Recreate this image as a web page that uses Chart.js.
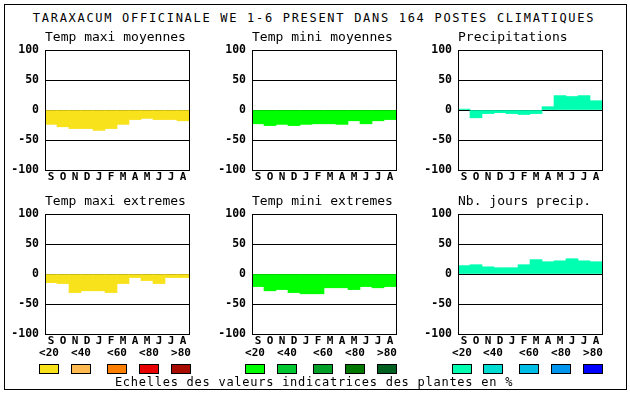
<!DOCTYPE html>
<html>
<head>
<meta charset="utf-8">
<script src="https://cdn.jsdelivr.net/npm/chart.js@4/dist/chart.umd.min.js"></script>
<style>
body { margin: 0; background: #fff; width: 630px; height: 394px; position: relative; overflow: hidden; font-family: "DejaVu Sans Mono", monospace; }
#frame { position: absolute; left: 4px; top: 4px; width: 621px; height: 384px; border: 1px solid #000; }
#title { position: absolute; left: 0; width: 628px; top: 9px; text-align: center; font-size: 12px; letter-spacing: 1.7px; line-height: 18px; }
#footer { position: absolute; left: 0; width: 628px; top: 374px; text-align: center; font-size: 12px; letter-spacing: 0.74px; line-height: 16px; }
canvas { position: absolute; }
.lab { position: absolute; width: 30px; text-align: center; font-size: 11px; font-weight: bold; line-height: 12px; top: 347px; }
.box { position: absolute; width: 18px; height: 8px; border: 1px solid #000; top: 364px; }
</style>
</head>
<body>
<div id="frame"></div>
<div id="title">TARAXACUM OFFICINALE WE 1-6 PRESENT DANS 164 POSTES CLIMATIQUES</div>
<canvas id="c1" width="192" height="164" style="left:0px;top:26px"></canvas>
<canvas id="c2" width="192" height="164" style="left:207px;top:26px"></canvas>
<canvas id="c3" width="192" height="164" style="left:413px;top:26px"></canvas>
<canvas id="c4" width="192" height="164" style="left:0px;top:190px"></canvas>
<canvas id="c5" width="192" height="164" style="left:207px;top:190px"></canvas>
<canvas id="c6" width="192" height="164" style="left:413px;top:190px"></canvas>
<div id="legend"></div>
<div id="footer">Echelles des valeurs indicatrices des plantes en %</div>
<script>
// months, september to august
const months = ["S", "O", "N", "D", "J", "F", "M", "A", "M", "J", "J", "A"];
const yTicks = [-100, -50, 0, 50, 100];

const tmaxMoyennes = [-24, -28, -31, -31, -34, -31, -24, -16, -14, -16, -16, -18];
const tminMoyennes = [-23, -26, -24, -26, -24, -23, -23, -24, -18, -23, -18, -16];
const precipitations = [1.5, -13, -6, -4.5, -6, -7.5, -6, 5.5, 24, 22.5, 24, 15.5];
const tmaxExtremes = [-14.5, -16, -31, -28, -28, -31, -16, -6, -11, -16, -6, -6];
const tminExtremes = [-21, -28, -26, -31, -33, -33, -23, -23, -26, -21, -23, -21];
const nbJoursPrecip = [14, 15.5, 12, 10.5, 10.5, 15.5, 24, 20.5, 22, 25.5, 22, 20.5];

const legendLabels = ["<20", "<40", "<60", "<80", ">80"];
const tempMaxColors = ["#f8e21c", "#ffbb4f", "#ff8000", "#e80000", "#a80c00"];
const tempMinColors = ["#00ff00", "#00c832", "#00a028", "#007800", "#006020"];
const precipColors = ["#00ffb0", "#00dcd2", "#00bde6", "#0096f0", "#0000ff"];

const FONT = "DejaVu Sans Mono";

// draws the frame around the plot area
const plotFrame = {
    id: "plotFrame",
    afterDraw(chart) {
        const a = chart.chartArea;
        const ctx = chart.ctx;
        ctx.save();
        ctx.strokeStyle = "#000";
        ctx.lineWidth = 1;
        ctx.strokeRect(a.left + 0.5, a.top + 0.5, a.width, a.height);
        ctx.restore();
    }
};

function buildChart(id, title, values, color) {
    new Chart(document.getElementById(id), {
        type: "bar",
        plugins: [plotFrame],
        data: {
            labels: months,
            datasets: [{
                data: values,
                backgroundColor: color,
                borderWidth: 0,
                barPercentage: 1,
                categoryPercentage: 1
            }]
        },
        options: {
            responsive: false,
            animation: false,
            layout: { padding: { left: 0, right: 3, top: 0, bottom: 0 } },
            scales: {
                x: {
                    afterFit: s => { s.height = 20; },
                    grid: { display: false, drawTicks: false },
                    border: { display: false },
                    ticks: {
                        color: "#000",
                        padding: 1,
                        maxRotation: 0,
                        autoSkip: false,
                        font: { family: FONT, size: 11, weight: "bold" }
                    }
                },
                y: {
                    min: -100,
                    max: 100,
                    z: 1,
                    afterFit: s => { s.width = 45; },
                    afterBuildTicks: s => { s.ticks = yTicks.map(v => ({ value: v })); },
                    grid: { color: "#000", lineWidth: 1, drawTicks: false },
                    border: { display: true, color: "#000" },
                    ticks: {
                        color: "#000",
                        padding: 6,
                        font: { family: FONT, size: 11.5, weight: "bold" }
                    }
                }
            },
            plugins: {
                legend: { display: false },
                tooltip: { enabled: false },
                title: {
                    display: true,
                    text: title,
                    align: "start",
                    fullSize: false,
                    color: "#000",
                    padding: { top: 4, bottom: 4 },
                    font: { family: FONT, size: 13, weight: "normal", lineHeight: "16px" }
                }
            }
        }
    });
}

function buildLegend(colors, boxLefts) {
    const legend = document.getElementById("legend");
    for (let i = 0; i < colors.length; i++) {
        const lab = document.createElement("div");
        lab.className = "lab";
        lab.style.left = (boxLefts[i] - 5) + "px";
        lab.textContent = legendLabels[i];
        legend.appendChild(lab);

        const box = document.createElement("div");
        box.className = "box";
        box.style.left = boxLefts[i] + "px";
        box.style.background = colors[i];
        legend.appendChild(box);
    }
}

buildChart("c1", "Temp maxi moyennes", tmaxMoyennes, tempMaxColors[0]);
buildChart("c2", "Temp mini moyennes", tminMoyennes, tempMinColors[0]);
buildChart("c3", "Precipitations", precipitations, precipColors[0]);
buildChart("c4", "Temp maxi extremes", tmaxExtremes, tempMaxColors[0]);
buildChart("c5", "Temp mini extremes", tminExtremes, tempMinColors[0]);
buildChart("c6", "Nb. jours precip.", nbJoursPrecip, precipColors[0]);

buildLegend(tempMaxColors, [39, 71, 107, 139, 171]);
buildLegend(tempMinColors, [245, 277, 313, 345, 377]);
buildLegend(precipColors, [452, 483, 519, 551, 583]);
</script>
</body>
</html>
